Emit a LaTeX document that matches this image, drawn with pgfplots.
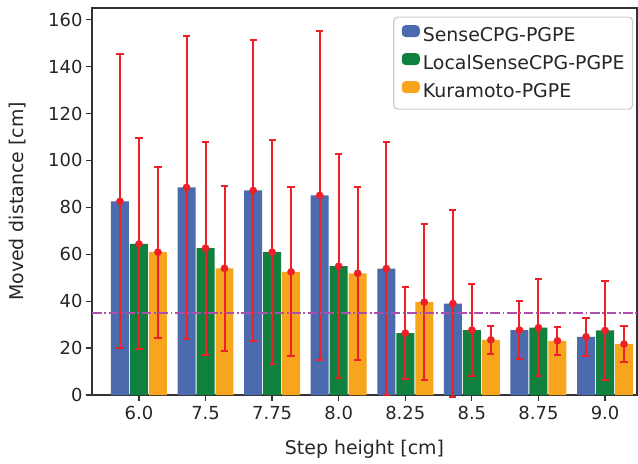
\documentclass[border=0pt]{standalone}
\usepackage{fontspec}
\setmainfont{DejaVu Sans}
\usepackage{pgfplots}
\usepackage{pgfplotstable}
\pgfplotsset{compat=1.18}

\definecolor{cblue}{RGB}{76,106,174}
\definecolor{cgreen}{RGB}{16,128,62}
\definecolor{corange}{RGB}{248,165,30}
\definecolor{errred}{RGB}{236,32,38}
\definecolor{refline}{RGB}{170,80,170}
\definecolor{txt}{RGB}{38,38,38}
\definecolor{spine}{RGB}{51,51,51}
\newcommand\fs{\fontsize{18}{21.5}\selectfont}
\newcommand\fl{\fontsize{19}{22.5}\selectfont}

% i = category index, m = mean, e = std
\pgfplotstableread{
i m e
0 82.6 62.6
1 88.5 64.7
2 87.2 64.0
3 85.1 70.0
4 53.9 54.0
5 39.0 39.8
6 27.7 12.3
7 24.8 8.1
}\sensecpg
\pgfplotstableread{
i m e
0 64.4 45.0
1 62.6 45.4
2 60.9 47.7
3 54.9 47.8
4 26.4 19.6
5 27.7 19.5
6 28.7 20.6
7 27.5 21.0
}\localsense
\pgfplotstableread{
i m e
0 60.9 36.5
1 54.0 35.3
2 52.5 36.0
3 51.9 36.9
4 39.6 33.4
5 23.5 6.0
6 23.1 6.0
7 21.7 7.7
}\kuramoto

\pgfplotsset{
  barerr/.style={
    ybar, bar width=0.27, bar shift=0pt, draw=none, fill=#1,
    mark=*, mark size=3.6bp, mark options={draw=errred, fill=errred},
    error bars/y dir=both, error bars/y explicit,
    error bars/error bar style={errred, line width=2bp},
    error bars/error mark=-,
    error bars/error mark options={rotate=90, errred, line width=2bp, mark size=3.6bp}},
}

\begin{document}
\begin{tikzpicture}
\begin{axis}[
  scale only axis, width=545bp, height=387bp,
  xmin=-0.705, xmax=7.48, ymin=0, ymax=165,
  clip=false,
  axis line style={spine, line width=1.25bp},
  xtick={0,...,7},
  xticklabels={6.0,7.5,7.75,8.0,8.25,8.5,8.75,9.0},
  ytick={0,20,...,160},
  tick align=outside, tick pos=left,
  major tick length=6bp,
  tick style={spine, line width=1.25bp},
  /pgf/number format/assume math mode=true,
  tick label style={font=\fs, text=txt},
  xticklabel style={yshift=-1.5bp},
  label style={font=\fl, text=txt},
  xlabel={Step height [cm]},
  ylabel={Moved distance [cm]},
  xlabel style={yshift=-14bp},
  ylabel style={yshift=15bp},
  legend style={at={(0.993,0.978)}, anchor=north east, draw=black!20,
    line width=1.2bp, rounded corners=4bp, fill=white, font=\fl, text=txt,
    inner xsep=8bp, inner ysep=8bp, column sep=3bp, row sep=8bp,
    nodes={inner sep=0pt, text height=13.5bp, text depth=3.5bp}},
  legend cell align=left,
  legend image code/.code={\fill[#1,draw=none] (0bp,-0.5bp) rectangle (18bp,11.5bp);},
]
\addplot[barerr=cblue] table[x expr=\thisrow{i}-0.285, y=m, y error=e] {\sensecpg};
\addplot[barerr=cgreen] table[x expr=\thisrow{i}, y=m, y error=e] {\localsense};
\addplot[barerr=corange] table[x expr=\thisrow{i}+0.285, y=m, y error=e] {\kuramoto};
\legend{SenseCPG-PGPE, LocalSenseCPG-PGPE, Kuramoto-PGPE}
\addplot[sharp plot, mark=none, refline, line width=2bp,
  dash pattern=on 9.6bp off 2.6bp on 1.8bp off 2.6bp]
  coordinates {(-0.705,35) (7.48,35)};
\end{axis}
\pgfresetboundingbox
\path (-92bp,-69bp) rectangle (546bp,395bp);
\end{tikzpicture}
\end{document}
